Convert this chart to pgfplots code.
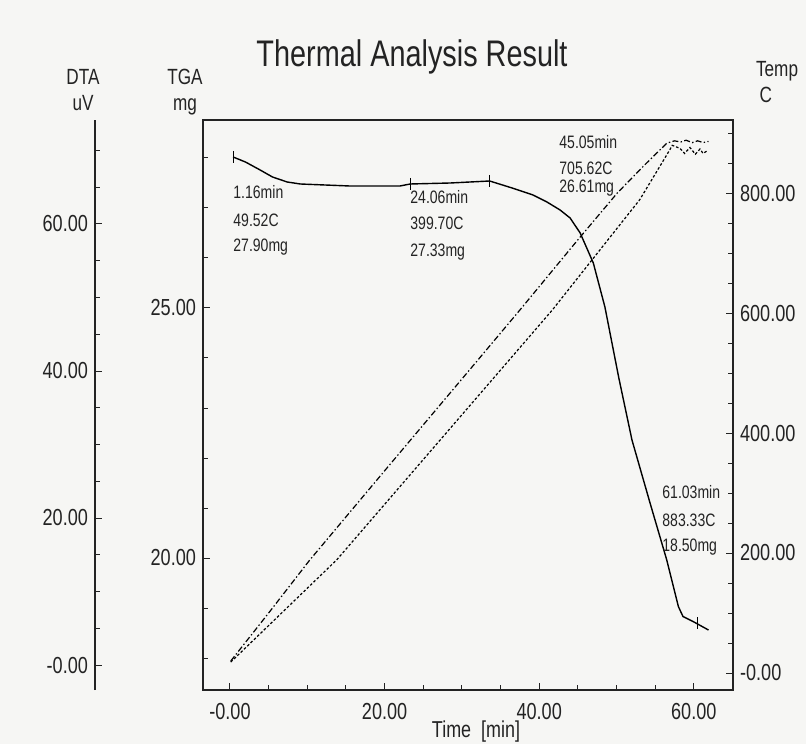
\documentclass[border=0pt]{standalone}
\usepackage{fontspec}
\setmainfont{Liberation Sans}[FakeStretch=0.78]
\usepackage{pgfplots}
\usepackage{pgfplotstable}
\pgfplotsset{compat=1.18}

\definecolor{paper}{RGB}{246,246,244}
\definecolor{ink}{RGB}{35,35,35}

% TGA (mg) vs time (min)
\pgfplotstableread{
t mg
0.4 28.02
2.0 27.92
3.9 27.76
5.5 27.62
7.4 27.52
9.1 27.48
15.5 27.44
22.0 27.44
23.3 27.48
28.5 27.50
33.6 27.54
34.0 27.52
36.5 27.40
39.2 27.26
41.0 27.12
42.7 26.96
44.0 26.80
45.3 26.50
47.0 25.90
48.5 25.02
50.3 23.60
52.0 22.36
54.3 21.12
56.5 19.96
58.0 19.03
58.6 18.83
59.9 18.73
61.9 18.56
}\tgadata

% Temperature (C) vs time (min)
\pgfplotstableread{
t T
0.1 20
5.0 100
10.3 188
20.0 337
30.0 490
37.5 605
45.0 722
50.1 800
53.5 845
56.5 883
57.5 887
58.3 885
59.0 888
59.8 884
60.5 887
61.2 884
61.9 886
}\tempdata

% DTA (uV) vs time (min)
\pgfplotstableread{
t U
0.1 0.4
13.8 14.3
41.7 48.3
53.0 63.3
56.9 70.1
57.2 70.7
58.2 70.3
58.8 69.6
59.5 70.4
60.2 69.5
60.8 70.2
61.2 69.6
61.8 70.0
}\dtadata

\begin{document}
\begin{tikzpicture}
\path[use as bounding box, fill=paper] (-101.5pt,-27pt) rectangle (301.5pt,345pt);
\pgfplotsset{
  common/.style={
    scale only axis, width=265pt, height=285pt,
    xmin=-3.49, xmax=65.07,
    at={(0pt,0pt)}, anchor=south west,
    /pgf/number format/assume math mode=true,
    tick label style={font=\fontsize{11.6}{13}\selectfont, text=ink},
    tick align=inside,
    major tick length=3.5pt, minor tick length=2.5pt,
    every tick/.style={ink, line width=0.5pt},
    axis line style={ink, line width=0.6pt},
  }
}
% Main axis: time and TGA
\begin{axis}[common,
  ymin=17.36, ymax=28.76,
  xtick={0,20,40,60}, xticklabels={-0.00,20.00,40.00,60.00},
  minor xtick={5,10,15,25,30,35,45,50,55,65},
  ytick={20,25}, yticklabels={20.00,25.00},
  minor ytick={18,19,21,22,23,24,26,27,28},
  xtick pos=bottom, ytick pos=left,
  xticklabel style={yshift=-3pt},
]
\addplot[black, line width=0.7pt] table[x=t, y=mg] {\tgadata};
\addplot[only marks, mark=|, mark size=3pt, black, mark options={line width=0.5pt}]
  coordinates {(0.4,28.02) (23.3,27.48) (33.6,27.54) (60.5,18.70)};
\end{axis}
% Temperature axis (right)
\begin{axis}[common,
  ymin=-28.33, ymax=921.67,
  axis y line*=right, axis x line=none,
  ytick={0,200,400,600,800},
  yticklabels={-0.00,200.00,400.00,600.00,800.00},
  minor ytick={50,100,150,250,300,350,450,500,550,650,700,750,850,900},
]
\addplot[black, line width=0.6pt, dash pattern=on 3pt off 1.2pt on 0.7pt off 1.2pt] table[x=t, y=T] {\tempdata};
\end{axis}
% DTA data
\begin{axis}[common, ymin=-3.40, ymax=74.15, hide axis]
\addplot[black, line width=0.6pt, dash pattern=on 1.3pt off 1pt] table[x=t, y=U] {\dtadata};
\end{axis}
% DTA scale (separate line on the left)
\begin{axis}[scale only axis, width=1pt, height=285pt,
  at={(-54pt,0pt)}, anchor=south west,
  xmin=0, xmax=1, ymin=-3.40, ymax=74.15,
  hide x axis, axis y line*=left,
  /pgf/number format/assume math mode=true,
  tick label style={font=\fontsize{11.6}{13}\selectfont, text=ink},
  tick align=inside,
  major tick length=3.5pt, minor tick length=2.5pt,
  every tick/.style={ink, line width=0.5pt},
  axis line style={ink, line width=0.6pt},
  ytick={0,20,40,60}, yticklabels={-0.00,20.00,40.00,60.00},
  minor ytick={5,10,15,25,30,35,45,50,55,65,70},
]
\end{axis}

% Titles and axis names
\node[font=\fontsize{18.5}{20}\selectfont, text=ink] at (104.5pt,316.5pt) {Thermal Analysis Result};
\node[font=\fontsize{11}{13}\selectfont, align=center, text=ink] at (-60pt,300pt) {DTA\\uV};
\node[font=\fontsize{11}{13}\selectfont, align=center, text=ink] at (-9pt,299pt) {TGA\\mg};
\node[font=\fontsize{11}{13}\selectfont, align=left, anchor=west, text=ink] at (273pt,304pt) {Temp\\\,C};
\node[font=\fontsize{11.5}{13}\selectfont, text=ink] at (136.5pt,-21pt) {Time\ \ [min]};

% Peak annotations
\begin{scope}[every node/.style={font=\fontsize{9}{10}\selectfont, anchor=west, inner sep=0pt, text=ink}]
\node at (15pt,249pt) {1.16min};
\node at (15pt,235pt) {49.52C};
\node at (15pt,221.5pt) {27.90mg};
\node at (103.5pt,246.5pt) {24.06min};
\node at (103.5pt,233.5pt) {399.70C};
\node at (103.5pt,219pt) {27.33mg};
\node at (178pt,274pt) {45.05min};
\node at (178pt,261pt) {705.62C};
\node at (178pt,251pt) {26.61mg};
\node at (229.5pt,99pt) {61.03min};
\node at (229.5pt,85pt) {883.33C};
\node at (229.5pt,71.5pt) {18.50mg};
\end{scope}
\end{tikzpicture}
\end{document}
